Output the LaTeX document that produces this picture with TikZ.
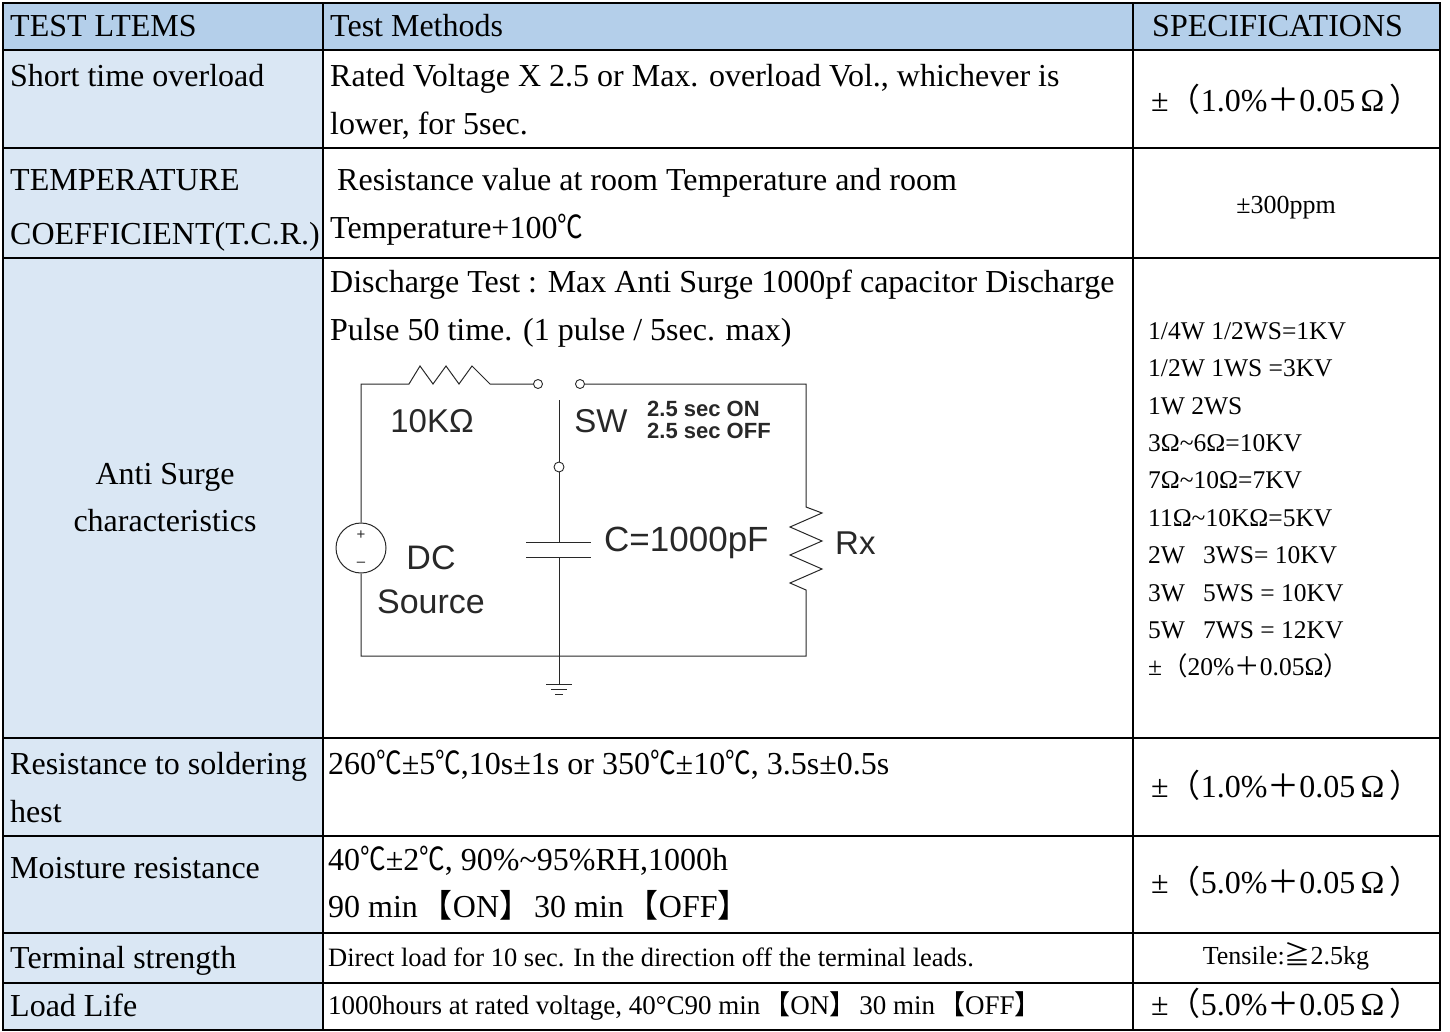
\documentclass[tikz,border=0pt]{standalone}
\usepackage{fontspec}
\setmainfont{Liberation Serif}
\newfontfamily\cjk{Noto Sans CJK SC}
\newfontfamily\arialf{Liberation Sans}
\newcommand{\fw}[1]{{\cjk #1}}
\newcommand{\degc}{{\cjk\scalebox{0.8}[1]{℃}}}
\newcommand{\lb}{\hspace{3pt}{\cjk 【}}
\newcommand{\rb}{{\cjk 】}\hspace{3pt}}
\definecolor{hdrblue}{RGB}{180,207,234}
\definecolor{sideblue}{RGB}{218,231,244}
\definecolor{ink}{RGB}{40,40,40}
\begin{document}
\begin{tikzpicture}[x=1pt,y=-1pt,
  grid/.style={line width=2.4pt,black},
  big/.style={anchor=base west,inner sep=0pt,font=\fontsize{32}{37}\selectfont},
  bigc/.style={anchor=base,inner sep=0pt,font=\fontsize{32}{37}\selectfont},
  mid/.style={anchor=base west,inner sep=0pt,font=\fontsize{26.5}{30}\selectfont},
  midc/.style={anchor=base,inner sep=0pt,font=\fontsize{26}{30}\selectfont},
  lst/.style={anchor=base west,inner sep=0pt,font=\fontsize{25.5}{28}\selectfont},
  wire/.style={draw=ink,line width=1pt},
  term/.style={draw=ink,line width=0.9pt,fill=white},
  ckt/.style={inner sep=0pt,text=ink,font=\arialf\fontsize{33}{36}\selectfont},
  cktsmall/.style={inner sep=0pt,anchor=west,text=ink,font=\arialf\bfseries\fontsize{22}{22}\selectfont},
  pm/.style={inner sep=0pt,text=ink,font=\arialf\fontsize{15}{15}\selectfont}]
\useasboundingbox (0,0) rectangle (1450,1032);
% fills
\fill[hdrblue] (3,3) rectangle (1440,50);
\fill[sideblue] (3,50) rectangle (323,1030);
% grid
\draw[grid] (3,3) rectangle (1440,1030);
\foreach \yy in {50,148,258,738,836,933,983} \draw[grid] (3,\yy) -- (1440,\yy);
\draw[grid] (323,3) -- (323,1030);
\draw[grid] (1133,3) -- (1133,1030);
% header
\node[big] (h1) at (10,37) {TEST LTEMS};
\node[big] (h2) at (330,37) {Test Methods};
\node[big] (h3) at (1152,37) {SPECIFICATIONS};
% row 1
\node[big] (r1a) at (10,87) {Short time overload};
\node[big] (r1b) at (330,87) {Rated Voltage X 2.5 or Max. overload Vol., whichever is};
\node[big] (r1c) at (330,135) {lower, for 5sec.};
\node[big] (r1d) at (1151,112) {±\fw{（}1.0\%\fw{＋}0.05\,Ω\,\fw{）}};
% row 2
\node[big] (r2a) at (10,191) {TEMPERATURE};
\node[big] (r2b) at (10,244) {COEFFICIENT(T.C.R.)};
\node[big] (r2c) at (337,191) {Resistance value at room Temperature and room};
\node[big] (r2d) at (330,239) {Temperature+100\degc};
\node[midc] (r2e) at (1286,214) {±300ppm};
% row 3
\node[bigc] (r3a) at (165,484) {Anti Surge};
\node[bigc] (r3b) at (165,531) {characteristics};
\node[big] (r3c) at (330,292) {Discharge Test : Max Anti Surge 1000pf capacitor Discharge};
\node[big] (r3d) at (330,340) {Pulse 50 time. (1 pulse / 5sec. max)};
\node[lst] (s1) at (1148,339) {1/4W 1/2WS=1KV};
\node[lst] (s2) at (1148,376) {1/2W 1WS =3KV};
\node[lst] (s3) at (1148,414) {1W 2WS};
\node[lst] (s4) at (1148,451) {3Ω\textasciitilde 6Ω=10KV};
\node[lst] (s5) at (1148,488) {7Ω\textasciitilde 10Ω=7KV};
\node[lst] (s6) at (1148,526) {11Ω\textasciitilde 10KΩ=5KV};
\node[lst] (s7) at (1148,563) {2W\hspace{18pt}3WS= 10KV};
\node[lst] (s8) at (1148,601) {3W\hspace{18pt}5WS = 10KV};
\node[lst] (s9) at (1148,638) {5W\hspace{18pt}7WS = 12KV};
\node[lst] (s10) at (1148,675) {±\fw{（}20\%\fw{＋}0.05Ω\fw{）}};
% circuit
\coordinate (TL) at (361,384);
\coordinate (TR) at (806,384);
\coordinate (BL) at (361,656);
\coordinate (BR) at (806,656);
\coordinate (GND) at (559,684);
\node[draw=ink,line width=1pt,circle,minimum size=50pt,inner sep=0pt] (src) at (361,548) {};
\node[pm] (plus) at (361,535) {+};
\node[pm] (minus) at (361,564) {\textendash};
\node[term,circle,minimum size=9pt,inner sep=0pt] (swa) at (538,384) {};
\node[term,circle,minimum size=9pt,inner sep=0pt] (swb) at (580,384) {};
\node[term,circle,minimum size=10pt,inner sep=0pt] (swc) at (559,467) {};
\coordinate (blade) at (559,400);
\coordinate (capT) at (559,542);
\coordinate (capB) at (559,557);
\draw[wire] (src.north) -- (TL) -- (409,384) -- (420,366) -- (433,384) -- (446,366) -- (459,384) -- (472,366) -- (490,384) -- (swa.west);
\draw[wire] (src.south) -- (BL) -- (BR) -- (806,590) -- (790,583) -- (822,569) -- (790,555) -- (822,541) -- (790,527) -- (822,513) -- (806,507) -- (TR) -- (swb.east);
\draw[wire] (blade) -- (swc.north);
\draw[wire] (swc.south) -- (capT);
\draw[wire] (526,542) -- (591,542);
\draw[wire] (526,557) -- (591,557);
\draw[wire] (capB) -- (GND);
\draw[wire] (546,684) -- (572,684);
\draw[wire] (551,689) -- (567,689);
\draw[wire] (555,694) -- (563,694);
\node[ckt] (lr) at (432,421) {10KΩ};
\node[ckt] (lsw) at (601,421) {SW};
\node[cktsmall] (lon) at (647,409) {2.5 sec ON};
\node[cktsmall] (loff) at (647,431) {2.5 sec OFF};
\node[ckt,anchor=west,font=\arialf\fontsize{35}{36}\selectfont] (lc) at (604,543) {C=1000pF};
\node[ckt,anchor=west] (lrx) at (835,543) {Rx};
\node[ckt,font=\arialf\fontsize{34}{36}\selectfont] (ldc) at (431,558) {DC};
\node[ckt,font=\arialf\fontsize{34}{36}\selectfont] (lsrc) at (431,602) {Source};
% row 4
\node[big] (r4a) at (10,774) {Resistance to soldering};
\node[big] (r4b) at (10,822) {hest};
\node[big] (r4c) at (328,774) {260\degc±5\degc,10s±1s or 350\degc±10\degc, 3.5s±0.5s};
\node[big] (r4d) at (1151,797) {±\fw{（}1.0\%\fw{＋}0.05\,Ω\,\fw{）}};
% row 5
\node[big] (r5a) at (10,878) {Moisture resistance};
\node[big] (r5b) at (328,870) {40\degc±2\degc, 90\%\textasciitilde 95\%RH,1000h};
\node[big] (r5c) at (328,917) {90 min\lb ON\rb 30 min\lb OFF\rb};
\node[big] (r5d) at (1151,893) {±\fw{（}5.0\%\fw{＋}0.05\,Ω\,\fw{）}};
% row 6
\node[big] (r6a) at (10,968) {Terminal strength};
\node[mid] (r6b) at (328,966) {Direct load for 10 sec. In the direction off the terminal leads.};
\node[midc] (r6c) at (1286,964) {Tensile:\fw{≧}2.5kg};
% row 7
\node[big] (r7a) at (10,1016) {Load Life};
\node[mid,font=\fontsize{27}{30}\selectfont] (r7b) at (328,1014) {1000hours at rated voltage, 40°C90 min\lb ON\rb 30 min\lb OFF\rb};
\node[big] (r7c) at (1151,1015) {±\fw{（}5.0\%\fw{＋}0.05\,Ω\,\fw{）}};
\end{tikzpicture}
\end{document}
